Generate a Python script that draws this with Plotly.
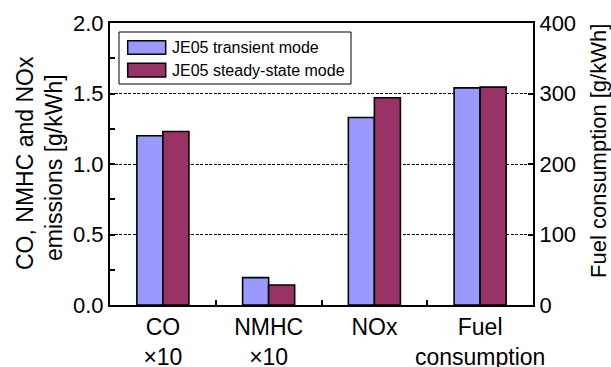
import plotly.graph_objects as go

# ---- data ----
categories = ["CO<br>×10", "NMHC<br>×10", "NOx", "Fuel<br>consumption"]
emission_categories = categories[:3]
transient_emissions = [1.20, 0.194, 1.33]   # g/kWh (CO and NMHC x10)
steady_emissions = [1.23, 0.142, 1.47]
fuel_categories = categories[3:]
transient_fuel = [308]                      # g/kWh
steady_fuel = [309]
series_names = ["JE05 transient mode", "JE05 steady-state mode"]
left_ticks = [0.0, 0.5, 1.0, 1.5, 2.0]
right_ticks = [0, 100, 200, 300, 400]

# ---- style ----
FONT = "Liberation Sans, Arial, sans-serif"
C_TRANS = "#9999FF"
C_STEADY = "#993366"
W, H = 611, 367
ML, MR, MT, MB = 110, 78, 23, 62
PW, PH = W - ML - MR, H - MT - MB
BW = 0.246

def px_x(p):
    return (p - ML) / PW

def px_y(p):
    return (H - MB - p) / PH

fig = go.Figure()
line = dict(color="black", width=1.6)
fig.add_trace(go.Bar(x=emission_categories, y=transient_emissions, name=series_names[0],
                     marker=dict(color=C_TRANS, line=line), width=BW, offset=-BW,
                     yaxis="y", showlegend=False))
fig.add_trace(go.Bar(x=emission_categories, y=steady_emissions, name=series_names[1],
                     marker=dict(color=C_STEADY, line=line), width=BW, offset=0,
                     yaxis="y", showlegend=False))
fig.add_trace(go.Bar(x=fuel_categories, y=transient_fuel, name=series_names[0],
                     marker=dict(color=C_TRANS, line=line), width=BW, offset=-BW,
                     yaxis="y2", showlegend=False))
fig.add_trace(go.Bar(x=fuel_categories, y=steady_fuel, name=series_names[1],
                     marker=dict(color=C_STEADY, line=line), width=BW, offset=0,
                     yaxis="y2", showlegend=False))

shapes = []
annotations = []
# legend box
shapes.append(dict(type="rect", xref="paper", yref="paper",
                   x0=px_x(119), x1=px_x(351), y0=px_y(84), y1=px_y(32),
                   line=dict(color="black", width=1), fillcolor="white", layer="above"))
for i, (col, name) in enumerate(zip([C_TRANS, C_STEADY], series_names)):
    top = 40.7 + i * 22.6
    shapes.append(dict(type="rect", xref="paper", yref="paper",
                       x0=px_x(127.7), x1=px_x(165.7), y0=px_y(top + 13.6), y1=px_y(top),
                       line=dict(color="black", width=1.5), fillcolor=col, layer="above"))
    annotations.append(dict(xref="paper", yref="paper", x=px_x(170), y=px_y(top + 6.8),
                            text=name, showarrow=False, xanchor="left", yanchor="middle",
                            font=dict(family=FONT, size=16, color="black")))

# axis titles
annotations.append(dict(xref="paper", yref="paper", x=px_x(25), y=px_y(163),
                        text="CO, NMHC and NOx", textangle=-90, showarrow=False,
                        xanchor="center", yanchor="middle",
                        font=dict(family=FONT, size=23, color="black")))
annotations.append(dict(xref="paper", yref="paper", x=px_x(54), y=px_y(168),
                        text="emissions [g/kWh]", textangle=-90, showarrow=False,
                        xanchor="center", yanchor="middle",
                        font=dict(family=FONT, size=23, color="black")))
annotations.append(dict(xref="paper", yref="paper", x=px_x(598), y=px_y(151),
                        text="Fuel consumption [g/kWh]", textangle=-90, showarrow=False,
                        xanchor="center", yanchor="middle",
                        font=dict(family=FONT, size=22, color="black")))

fig.update_layout(
    width=W, height=H,
    margin=dict(l=ML, r=MR, t=MT, b=MB, pad=0, autoexpand=False),
    paper_bgcolor="white", plot_bgcolor="white",
    barmode="overlay",
    showlegend=False,
    font=dict(family=FONT, color="black"),
    shapes=shapes, annotations=annotations,
    xaxis=dict(type="category", categoryorder="array", categoryarray=categories,
               range=[-0.5, 3.5], tickson="boundaries", ticks="inside", ticklen=5,
               tickwidth=1.5, tickcolor="black", showline=True, linewidth=2,
               linecolor="black", mirror=True, showgrid=False, tickangle=0,
               automargin=False,
               tickfont=dict(family=FONT, size=23, color="black")),
    yaxis=dict(range=[0, 2], tickvals=left_ticks, tickformat=".1f", ticks="inside",
               ticklen=5, tickwidth=1.5, tickcolor="black", showline=True, linewidth=2,
               linecolor="black", showgrid=True, gridcolor="black", gridwidth=1,
               griddash="3px,1.5px", zeroline=False, automargin=False,
               minor=dict(dtick=0.25, ticks="inside", ticklen=5, tickwidth=1.5,
                          tickcolor="black", showgrid=False),
               tickfont=dict(family=FONT, size=22, color="black")),
    yaxis2=dict(range=[0, 400], tickvals=right_ticks, overlaying="y", side="right",
                ticks="inside", ticklen=5, tickwidth=1.5, tickcolor="black",
                showline=True, linewidth=2, linecolor="black", showgrid=False,
                zeroline=False, automargin=False,
                tickfont=dict(family=FONT, size=22, color="black")),
)

fig.write_html("out.html")
